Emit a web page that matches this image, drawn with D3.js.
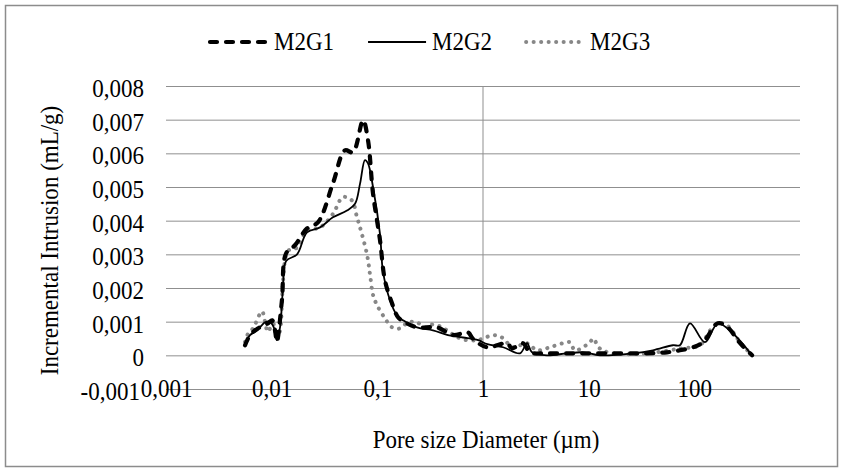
<!DOCTYPE html>
<html>
<head>
<meta charset="utf-8">
<script src="https://cdn.jsdelivr.net/npm/d3@7"></script>
<style>
  html, body { margin: 0; padding: 0; background: #fff; }
  svg { display: block; }
</style>
</head>
<body>
<svg id="chart" width="843" height="472"></svg>
<script>
// ---- Data (pore diameter in µm, incremental intrusion in mL/g) ----
const seriesNames = ["M2G1", "M2G2", "M2G3"];

const m2g1Diameter = [0.0056, 0.00624, 0.0074, 0.0092, 0.0101, 0.01076, 0.0112, 0.0125, 0.0137, 0.0166, 0.0216, 0.0274, 0.038, 0.0494, 0.0588, 0.0732, 0.0816, 0.091, 0.106, 0.118, 0.138, 0.157, 0.183, 0.237, 0.367, 0.52, 0.72, 0.80, 1.09, 1.69, 1.88, 2.39, 2.78, 4.03, 8.28, 17, 35.6, 55, 73, 97, 121, 167, 204, 271, 352];
const m2g1Value    = [0.0003, 0.0006, 0.0008, 0.00095, 0.00104, 0.00074, 0.0004, 0.00163, 0.00303, 0.00327, 0.00377, 0.00395, 0.00511, 0.00609, 0.00603, 0.00698, 0.00639, 0.00481, 0.00342, 0.00223, 0.00154, 0.00113, 0.00098, 0.00083, 0.00083, 0.0006, 0.00068, 0.0005, 0.00024, 0.00036, 0.00021, 0.00036, 0.00009, 0.00006, 0.00006, 0.00006, 0.00006, 0.00009, 0.00015, 0.00024, 0.00039, 0.00095, 0.00085, 0.00036, 0];

const m2g2Diameter = [0.0056, 0.00624, 0.00726, 0.0081, 0.00865, 0.0096, 0.01076, 0.0112, 0.012, 0.0128, 0.0137, 0.0174, 0.0216, 0.0287, 0.038, 0.0516, 0.0615, 0.0686, 0.0764, 0.0816, 0.091, 0.106, 0.113, 0.132, 0.1535, 0.175, 0.237, 0.336, 0.466, 0.647, 0.9, 1.1, 1.55, 2.24, 2.61, 2.91, 4.03, 6.24, 8.84, 12.8, 26.2, 40.6, 62.8, 73, 91, 126, 167, 232, 352];
const m2g2Value    = [0.00033, 0.0006, 0.00074, 0.0009, 0.00098, 0.001, 0.00074, 0.00045, 0.00083, 0.002, 0.0028, 0.003, 0.00365, 0.0038, 0.0041, 0.0043, 0.0045, 0.0051, 0.0058, 0.0057, 0.005, 0.0036, 0.0025, 0.00163, 0.00119, 0.00104, 0.00083, 0.00074, 0.0006, 0.00053, 0.00045, 0.00033, 0.00024, 0.00006, 0.00036, 0.00009, 0, 0.00006, 0.00009, 0, 0.00006, 0.00015, 0.0003, 0.0003, 0.00095, 0.00039, 0.00095, 0.00065, 0];

const m2g3Diameter = [0.0056, 0.006, 0.00665, 0.0081, 0.00865, 0.0092, 0.0103, 0.0112, 0.012, 0.0125, 0.0128, 0.0143, 0.0174, 0.0216, 0.0287, 0.038, 0.0473, 0.0575, 0.0642, 0.0686, 0.0798, 0.0853, 0.091, 0.099, 0.118, 0.138, 0.164, 0.195, 0.237, 0.283, 0.336, 0.409, 0.487, 0.58, 0.706, 0.877, 1.0, 1.245, 1.51, 1.92, 2.61, 3.24, 4.31, 5.71, 6.66, 7.42, 10.3, 11, 12.8, 17, 35.6, 73, 113, 141, 167, 204, 271, 352];
const m2g3Value    = [0.0004, 0.00065, 0.0008, 0.0013, 0.001, 0.0007, 0.00095, 0.0005, 0.00074, 0.0015, 0.0022, 0.0031, 0.0032, 0.0037, 0.0038, 0.0042, 0.0047, 0.0046, 0.0041, 0.0038, 0.003, 0.0024, 0.0018, 0.0015, 0.0011, 0.00083, 0.0008, 0.00098, 0.00098, 0.00083, 0.00092, 0.00083, 0.00068, 0.00053, 0.00045, 0.00045, 0.0005, 0.0006, 0.00053, 0.00024, 0.00036, 0.00015, 0.00024, 0.00036, 0.00039, 0.00015, 0.00039, 0.0005, 0.0002, 0.00006, 0.00006, 0.0002, 0.0003, 0.00074, 0.00095, 0.00089, 0.00039, 0];

const xTickValues = [0.001, 0.01, 0.1, 1, 10, 100];
const xTickLabels = ["0,001", "0,01", "0,1", "1", "10", "100"];
const yTickValues = [-0.001, 0, 0.001, 0.002, 0.003, 0.004, 0.005, 0.006, 0.007, 0.008];
const yTickLabels = ["-0,001", "0", "0,001", "0,002", "0,003", "0,004", "0,005", "0,006", "0,007", "0,008"];

const xTitle = "Pore size Diameter (µm)";
const yTitle = "Incremental Intrusion (mL/g)";

// ---- Font selection: pick an installed serif face ----
function pickFont(cands) {
  const c = document.createElement("canvas").getContext("2d");
  const probe = "Incremental Intrusion 0,008 M2G1";
  c.font = "40px monospace"; const wm = c.measureText(probe).width;
  c.font = "40px sans-serif"; const ws = c.measureText(probe).width;
  for (const f of cands) {
    c.font = `40px "${f}", monospace`; const a = c.measureText(probe).width;
    c.font = `40px "${f}", sans-serif`; const b = c.measureText(probe).width;
    if (Math.abs(a - wm) > 0.5 || Math.abs(b - ws) > 0.5) return `"${f}", serif`;
  }
  return "serif";
}
const FONT = pickFont(["Liberation Serif", "Tinos", "Times New Roman", "Nimbus Roman", "Noto Serif", "DejaVu Serif"]);

// Times-like advance widths (em) used to fix each text's width
const timesW = { " ": .25, "(": .333, ")": .333, ",": .25, "-": .333, ".": .25, "/": .278,
  "0": .5, "1": .5, "2": .5, "3": .5, "4": .5, "5": .5, "6": .5, "7": .5, "8": .5, "9": .5,
  "D": .722, "G": .722, "I": .333, "L": .611, "M": .889, "P": .556,
  "a": .444, "c": .444, "e": .444, "g": .5, "i": .278, "l": .278, "m": .778, "n": .5,
  "o": .5, "r": .333, "s": .389, "t": .278, "u": .5, "z": .444, "µ": .55 };
const widthEm = s => Array.from(s).reduce((a, ch) => a + (timesW[ch] || 0.5), 0);

const fontSize = 25;     // glyph height
const widthSize = 23;    // horizontal metrics

function styleText(sel) {
  sel.attr("font-family", FONT)
     .attr("font-size", fontSize)
     .attr("fill", "#000")
     .attr("lengthAdjust", "spacingAndGlyphs")
     .attr("textLength", function () { return widthEm(this.textContent) * widthSize; });
}

// ---- Layout ----
const svg = d3.select("#chart");
const W = 843, H = 472;
const plot = { left: 166, right: 800, top: 86, bottom: 389 };

svg.append("rect")
  .attr("x", 5.5).attr("y", 5.5).attr("width", W - 11).attr("height", H - 11)
  .attr("fill", "#fff").attr("stroke", "#8c8c8c").attr("stroke-width", 1.5);

const x = d3.scaleLog().domain([0.001, 1000]).range([plot.left, plot.right]);
const y = d3.scaleLinear().domain([-0.001, 0.008]).range([plot.bottom, plot.top]);

// y gridlines + labels
const yAxis = d3.axisLeft(y)
  .tickValues(yTickValues)
  .tickFormat((d, i) => yTickLabels[i])
  .tickSize(-(plot.right - plot.left))
  .tickPadding(22);
const gy = svg.append("g").attr("transform", `translate(${plot.left},0)`).call(yAxis);
gy.select(".domain").remove();
gy.selectAll(".tick line").attr("stroke", "#8f8f8f").attr("stroke-width", 1);
gy.selectAll(".tick text").call(styleText).attr("dy", "0.42em")
  .attr("dx", (d, i) => i === 0 ? -4 : 0);

// vertical axis line crossing at x = 1
svg.append("line")
  .attr("x1", x(1)).attr("x2", x(1))
  .attr("y1", plot.top).attr("y2", plot.bottom)
  .attr("stroke", "#8f8f8f").attr("stroke-width", 1);

// x labels
const xAxis = d3.axisBottom(x)
  .tickValues(xTickValues)
  .tickFormat((d, i) => xTickLabels[i])
  .tickSize(0)
  .tickPadding(0);
const gx = svg.append("g").attr("transform", `translate(0,${plot.bottom})`).call(xAxis);
gx.select(".domain").remove();
gx.selectAll(".tick text").call(styleText).attr("y", 0).attr("dy", "0.33em");

// ---- Series ----
const line = d3.line()
  .x(d => x(d[0]))
  .y(d => y(d[1]))
  .curve(d3.curveCatmullRom.alpha(0.5));

const series = [
  { name: seriesNames[0], pts: d3.zip(m2g1Diameter, m2g1Value), stroke: "#000", width: 4.2, dash: "7,9", cap: "round" },
  { name: seriesNames[1], pts: d3.zip(m2g2Diameter, m2g2Value), stroke: "#000", width: 1.8, dash: null, cap: "butt" },
  { name: seriesNames[2], pts: d3.zip(m2g3Diameter, m2g3Value), stroke: "#878787", width: 4, dash: "0.1,7.4", cap: "round" }
];

[2, 1, 0].forEach(i => {
  const s = series[i];
  svg.append("path")
    .attr("d", line(s.pts))
    .attr("fill", "none")
    .attr("stroke", s.stroke)
    .attr("stroke-width", s.width)
    .attr("stroke-dasharray", s.dash)
    .attr("stroke-linecap", s.cap)
    .attr("stroke-linejoin", "round");
});

// ---- Legend ----
const legendY = 42;
let lx = 208;
series.forEach(s => {
  svg.append("line")
    .attr("x1", lx + 2).attr("x2", lx + 60)
    .attr("y1", legendY).attr("y2", legendY)
    .attr("stroke", s.stroke).attr("stroke-width", s.width)
    .attr("stroke-dasharray", s.dash).attr("stroke-linecap", s.cap);
  svg.append("text")
    .attr("x", lx + 66).attr("y", legendY + 8)
    .text(s.name).call(styleText);
  lx += 66 + widthEm(s.name) * widthSize + 32;
});

// ---- Titles ----
svg.append("text")
  .attr("x", (plot.left + plot.right) / 2 + 3).attr("y", 448)
  .attr("text-anchor", "middle")
  .text(xTitle).call(styleText);

svg.append("text")
  .attr("transform", `translate(58,${(plot.top + plot.bottom) / 2 + 3}) rotate(-90)`)
  .attr("text-anchor", "middle")
  .text(yTitle).call(styleText);
</script>
</body>
</html>
